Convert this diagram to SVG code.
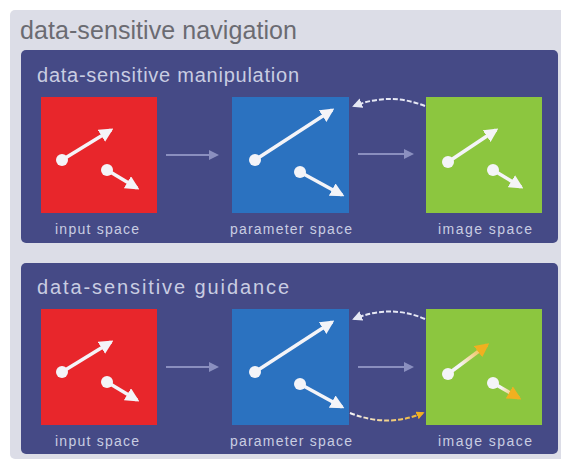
<svg xmlns="http://www.w3.org/2000/svg" width="561" height="461" viewBox="0 0 561 461">
<defs>
<style>
.panel{fill:#454a86}
.title{font-family:"Liberation Sans",Arial,sans-serif;font-size:25px;fill:#6b6b72}
.sub{font-family:"Liberation Sans",Arial,sans-serif;font-size:20px;fill:#c9cde2}
.lab{font-family:"Liberation Sans",Arial,sans-serif;font-size:14px;fill:#c9cde2}
.vec{stroke:#f4f4f8;stroke-width:3.5;fill:none}
.dot{fill:#f4f4f8}
.flow{stroke:#8a8fbf;stroke-width:2;fill:none}
.dash{stroke:#e6e8f4;stroke-width:2;fill:none;stroke-dasharray:5 2}
</style>
<marker id="ah" viewBox="0 0 10 10" refX="8" refY="5" markerWidth="4" markerHeight="4" orient="auto"><path d="M0,0 L10,5 L0,10 z" fill="#f4f4f8"/></marker>
<marker id="ahf" viewBox="0 0 10 10" refX="8" refY="5" markerWidth="5" markerHeight="5" orient="auto"><path d="M0,0 L10,5 L0,10 z" fill="#8a8fbf"/></marker>
<marker id="ahd" viewBox="0 0 10 10" refX="8" refY="5" markerWidth="5" markerHeight="5" orient="auto"><path d="M0,0 L10,5 L0,10 z" fill="#e6e8f4"/></marker>
<marker id="aho" viewBox="0 0 10 10" refX="8" refY="5" markerWidth="4" markerHeight="4" orient="auto"><path d="M0,0 L10,5 L0,10 z" fill="#f0b020"/></marker>
<linearGradient id="og2" gradientUnits="userSpaceOnUse" x1="448" y1="374" x2="488" y2="345"><stop offset="0.3" stop-color="#f4f4f8"/><stop offset="1" stop-color="#f0b020"/></linearGradient>
<linearGradient id="og3" gradientUnits="userSpaceOnUse" x1="493" y1="383" x2="520" y2="398"><stop offset="0.3" stop-color="#f4f4f8"/><stop offset="1" stop-color="#f0b020"/></linearGradient>
<linearGradient id="og4" gradientUnits="userSpaceOnUse" x1="350" y1="0" x2="424" y2="0"><stop offset="0" stop-color="#f4f4f8"/><stop offset="1" stop-color="#f0b020"/></linearGradient>
</defs>
<rect width="561" height="461" fill="#ffffff"/>
<rect x="10" y="10" width="560" height="449" rx="5" fill="#dcdde7"/>
<text class="title" x="20" y="39" textLength="277">data-sensitive navigation</text>

<g id="manipulation">
<rect class="panel" x="21" y="50" width="537" height="193" rx="5"/>
<text class="sub" x="37" y="82" textLength="262">data-sensitive manipulation</text>
</g>
<g id="m-input">
<rect x="41" y="97" width="116" height="116" fill="#e8262b"/>
<line class="vec" x1="62" y1="160" x2="111" y2="130" marker-end="url(#ah)"/>
<circle class="dot" cx="62" cy="160" r="6"/>
<line class="vec" x1="107" y1="170" x2="137" y2="188" marker-end="url(#ah)"/>
<circle class="dot" cx="107" cy="170" r="6"/>
<text class="lab" x="55" y="234" textLength="84">input space</text>
</g>
<g id="m-param">
<rect x="232" y="97" width="117" height="116" fill="#2b72c0"/>
<line class="vec" x1="255" y1="160" x2="332" y2="110" marker-end="url(#ah)"/>
<circle class="dot" cx="255" cy="160" r="6"/>
<line class="vec" x1="300" y1="172" x2="342" y2="195" marker-end="url(#ah)"/>
<circle class="dot" cx="300" cy="172" r="6"/>
<text class="lab" x="230" y="234" textLength="122">parameter space</text>
</g>
<g id="m-image">
<rect x="426" y="97" width="116" height="116" fill="#8cc63f"/>
<line class="vec" x1="448" y1="162" x2="496" y2="130" marker-end="url(#ah)"/>
<circle class="dot" cx="448" cy="162" r="6"/>
<line class="vec" x1="493" y1="170" x2="521" y2="187" marker-end="url(#ah)"/>
<circle class="dot" cx="493" cy="170" r="6"/>
<text class="lab" x="438" y="234" textLength="94">image space</text>
</g>

<g id="guidance">
<rect class="panel" x="21" y="263" width="537" height="191" rx="5"/>
<text class="sub" x="37" y="294" textLength="252">data-sensitive guidance</text>
</g>
<g id="g-input">
<rect x="41" y="309" width="116" height="116" fill="#e8262b"/>
<line class="vec" x1="62" y1="372" x2="111" y2="342" marker-end="url(#ah)"/>
<circle class="dot" cx="62" cy="372" r="6"/>
<line class="vec" x1="107" y1="382" x2="137" y2="400" marker-end="url(#ah)"/>
<circle class="dot" cx="107" cy="382" r="6"/>
<text class="lab" x="55" y="446" textLength="84">input space</text>
</g>
<g id="g-param">
<rect x="232" y="309" width="117" height="116" fill="#2b72c0"/>
<line class="vec" x1="255" y1="372" x2="332" y2="322" marker-end="url(#ah)"/>
<circle class="dot" cx="255" cy="372" r="6"/>
<line class="vec" x1="300" y1="384" x2="342" y2="407" marker-end="url(#ah)"/>
<circle class="dot" cx="300" cy="384" r="6"/>
<text class="lab" x="230" y="446" textLength="122">parameter space</text>
</g>
<g id="g-image">
<rect x="426" y="309" width="116" height="116" fill="#8cc63f"/>
<line x1="448" y1="374" x2="487" y2="345" stroke="url(#og2)" stroke-width="3.5" marker-end="url(#aho)"/>
<circle class="dot" cx="448" cy="374" r="6"/>
<line x1="493" y1="383" x2="519" y2="398" stroke="url(#og3)" stroke-width="3.5" marker-end="url(#aho)"/>
<circle class="dot" cx="493" cy="383" r="6"/>
<text class="lab" x="438" y="446" textLength="94">image space</text>
</g>

<g id="connectors">
<line class="flow" x1="166" y1="155" x2="217" y2="155" marker-end="url(#ahf)"/>
<line class="flow" x1="358" y1="154" x2="412" y2="154" marker-end="url(#ahf)"/>
<path class="dash" d="M425,106 Q390,92 354,106" marker-end="url(#ahd)"/>
<line class="flow" x1="166" y1="367" x2="217" y2="367" marker-end="url(#ahf)"/>
<line class="flow" x1="358" y1="367" x2="412" y2="367" marker-end="url(#ahf)"/>
<path class="dash" d="M425,319 Q390,304 354,319" marker-end="url(#ahd)"/>
<path d="M350,413 Q388,428 423,413" stroke="url(#og4)" stroke-width="2" fill="none" stroke-dasharray="5 2" marker-end="url(#aho)"/>
</g>
</svg>
